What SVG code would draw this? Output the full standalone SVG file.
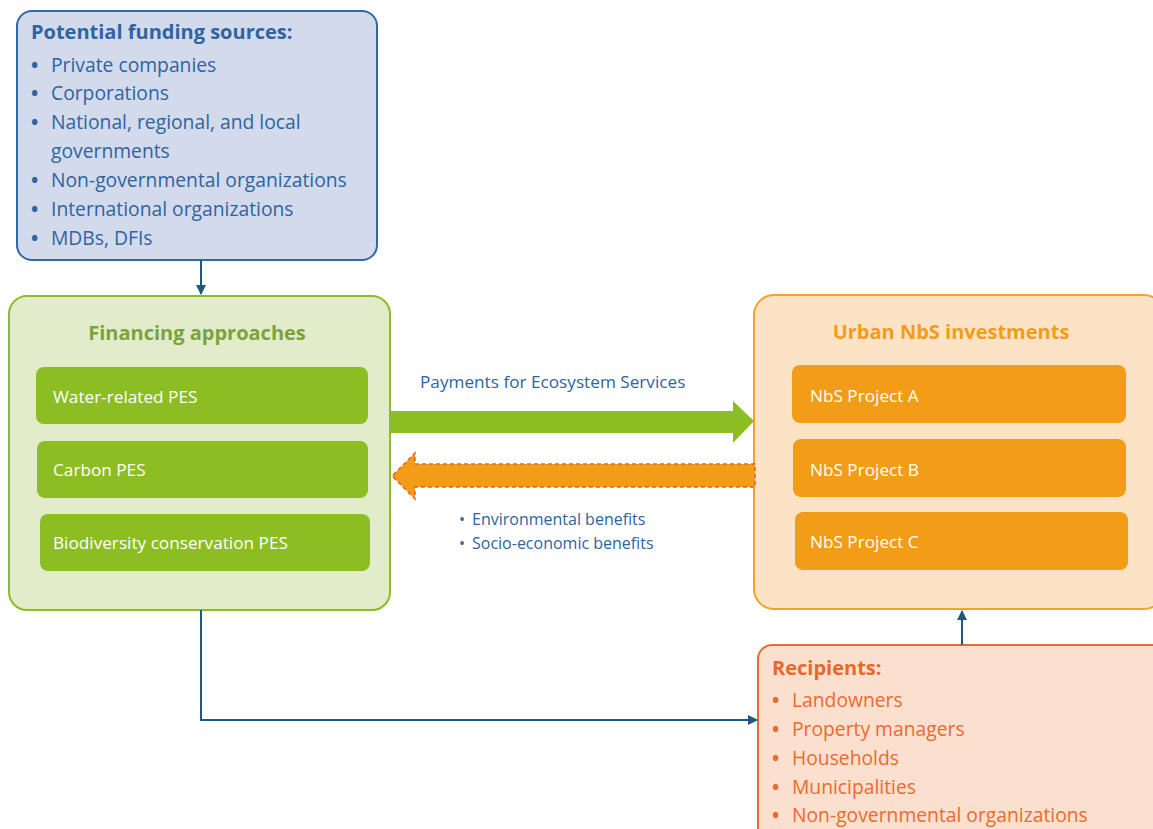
<svg xmlns="http://www.w3.org/2000/svg" width="1153" height="829" viewBox="0 0 1153 829">
<defs>
<style>
text{font-family:"Open Sans","DejaVu Sans",sans-serif}
.blue{fill:#2f64a0}
.ttl{font-weight:bold;font-size:20px}
.li{font-size:19.3px}
.sub{font-size:17.2px;fill:#fff}
.small{font-size:16px;fill:#2f64a0}
.conn{fill:none;stroke:#1d5a7e;stroke-width:2}
</style>
<marker id="ah" viewBox="0 0 10 10" refX="9" refY="5" markerWidth="5" markerHeight="5" orient="auto">
<path d="M0,0 L10,5 L0,10 z" fill="#1d5a7e"/>
</marker>
</defs>
<rect width="1153" height="829" fill="#fff"/>
<g id="funding">
<rect x="17" y="11" width="360" height="249" rx="15" fill="#d2daec" stroke="#2f6aa8" stroke-width="2"/>
<text x="31" y="39" class="ttl blue">Potential funding sources:</text>
<g class="blue li" font-weight="normal">
<text y="72"><tspan x="31" font-weight="bold">•</tspan><tspan x="51">Private companies</tspan></text>
<text y="100"><tspan x="31" font-weight="bold">•</tspan><tspan x="51">Corporations</tspan></text>
<text y="129"><tspan x="31" font-weight="bold">•</tspan><tspan x="51">National, regional, and local</tspan></text>
<text x="51" y="158">governments</text>
<text y="187"><tspan x="31" font-weight="bold">•</tspan><tspan x="51">Non-governmental organizations</tspan></text>
<text y="216"><tspan x="31" font-weight="bold">•</tspan><tspan x="51">International organizations</tspan></text>
<text y="245"><tspan x="31" font-weight="bold">•</tspan><tspan x="51">MDBs, DFIs</tspan></text>
</g>
</g>
<g id="financing">
<rect x="9" y="296" width="381" height="314" rx="18" fill="#e2ecca" stroke="#8cbd26" stroke-width="2"/>
<text x="197" y="340" text-anchor="middle" class="ttl" fill="#7aa33a">Financing approaches</text>
<rect x="36" y="367" width="332" height="57" rx="8" fill="#8cbd23"/>
<text x="53" y="403" class="sub">Water-related PES</text>
<rect x="37" y="441" width="331" height="57" rx="8" fill="#8cbd23"/>
<text x="53" y="476" class="sub">Carbon PES</text>
<rect x="40" y="514" width="330" height="57" rx="8" fill="#8cbd23"/>
<text x="53" y="549" class="sub">Biodiversity conservation PES</text>
</g>
<g id="investments">
<rect x="754" y="295" width="410" height="314" rx="20" fill="#fde3c5" stroke="#f5a22b" stroke-width="2"/>
<text x="951" y="339" text-anchor="middle" class="ttl" fill="#f39c18">Urban NbS investments</text>
<rect x="792" y="365" width="334" height="58" rx="8" fill="#f39c18"/>
<text x="810" y="402" class="sub">NbS Project A</text>
<rect x="793" y="439" width="333" height="58" rx="8" fill="#f39c18"/>
<text x="810" y="476" class="sub">NbS Project B</text>
<rect x="795" y="512" width="333" height="58" rx="8" fill="#f39c18"/>
<text x="810" y="548" class="sub">NbS Project C</text>
</g>
<g id="recipients">
<rect x="758" y="645" width="410" height="200" rx="14" fill="#fbdfcf" stroke="#ec6b2d" stroke-width="2"/>
<text x="772" y="675" class="ttl" fill="#e8672b">Recipients:</text>
<g fill="#ec6b2d" class="li">
<text y="707"><tspan x="772" font-weight="bold">•</tspan><tspan x="792">Landowners</tspan></text>
<text y="736"><tspan x="772" font-weight="bold">•</tspan><tspan x="792">Property managers</tspan></text>
<text y="765"><tspan x="772" font-weight="bold">•</tspan><tspan x="792">Households</tspan></text>
<text y="794"><tspan x="772" font-weight="bold">•</tspan><tspan x="792">Municipalities</tspan></text>
<text y="822"><tspan x="772" font-weight="bold">•</tspan><tspan x="792">Non-governmental organizations</tspan></text>
</g>
</g>
<g id="connectors">
<path class="conn" d="M201,260 V294" marker-end="url(#ah)"/>
<path class="conn" d="M201,610 V720 H757" marker-end="url(#ah)"/>
<path class="conn" d="M962,645 V611" marker-end="url(#ah)"/>
<path d="M390,411 H733 V401 L754,421 L733,443 V433 H390 Z" fill="#8cbd23"/>
<path d="M755,464 H415 V453 L392,476 L415,499 V487 H755 Z" fill="#f39c18" stroke="#e8602b" stroke-width="1.5" stroke-dasharray="4,3"/>
<text x="420" y="388" font-size="17.2" class="blue">Payments for Ecosystem Services</text>
<text y="525" class="small"><tspan x="459">•</tspan><tspan x="472">Environmental benefits</tspan></text>
<text y="549" class="small"><tspan x="459">•</tspan><tspan x="472">Socio-economic benefits</tspan></text>
</g>
</svg>
